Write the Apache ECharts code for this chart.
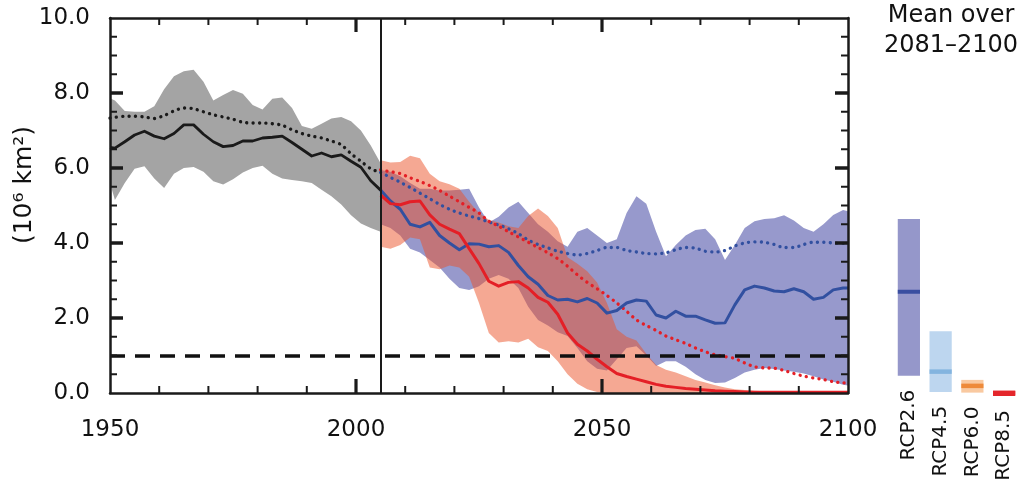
<!DOCTYPE html>
<html><head><meta charset="utf-8">
<script src="https://cdn.jsdelivr.net/npm/echarts@6/dist/echarts.min.js"></script>
<style>html,body{margin:0;padding:0;background:#fff}#c{width:1024px;height:484px}</style>
</head><body><div id="c"></div>
<script>
const FONT = 'DejaVu Sans';

// ---- Historical (1950-2005) ----
const histYears = [1950,1951,1953,1955,1957,1959,1961,1963,1965,1967,1969,1971,1973,1975,1977,1979,1981,1983,1985,1987,1989,1991,1993,1995,1997,1999,2001,2003,2005];
const histMean  = [6.55,6.53,6.7,6.88,6.98,6.85,6.78,6.92,7.15,7.15,6.9,6.7,6.57,6.6,6.72,6.72,6.8,6.82,6.85,6.68,6.5,6.32,6.4,6.3,6.35,6.18,6.02,5.66,5.41];
const histDot   = [7.33,7.35,7.38,7.38,7.36,7.32,7.4,7.52,7.6,7.58,7.5,7.42,7.36,7.3,7.22,7.2,7.2,7.18,7.14,7.02,6.92,6.85,6.8,6.72,6.62,6.38,6.18,5.98,5.88];
const histHi    = [7.86,7.8,7.52,7.5,7.5,7.65,8.1,8.45,8.58,8.62,8.3,7.8,7.95,8.08,7.98,7.68,7.56,7.85,7.88,7.6,7.12,7.05,7.18,7.32,7.36,7.25,7.0,6.6,6.13];
const histLo    = [5.6,5.15,5.6,5.98,6.05,5.72,5.47,5.85,6.0,6.03,5.9,5.65,5.56,5.7,5.88,6.0,6.06,5.85,5.72,5.68,5.65,5.6,5.42,5.25,5.03,4.74,4.52,4.4,4.3];

// ---- Projections (2005-2100) ----
const futYears = [2005,2007,2009,2011,2013,2015,2017,2019,2021,2023,2025,2027,2029,2031,2033,2035,2037,2039,2041,2043,2045,2047,2049,2051,2053,2055,2057,2059,2061,2063,2065,2067,2069,2071,2073,2075,2077,2079,2081,2083,2085,2087,2089,2091,2093,2095,2097,2099,2100];
// RCP2.6
const rcp26Mean = [5.41,5.12,4.9,4.5,4.43, 4.55,4.2,4.0,3.82,3.98, 3.97,3.9,3.93,3.75,3.4, 3.1,2.9,2.6,2.48,2.5, 2.43,2.52,2.4,2.13,2.2, 2.4,2.48,2.45,2.08,2.0, 2.18,2.05,2.05,1.95,1.86, 1.87,2.35,2.75,2.85,2.8, 2.72,2.7,2.78,2.7,2.5, 2.55,2.75,2.8,2.8];
const rcp26Dot  = [5.88,5.75,5.62,5.48,5.33, 5.18,5.03,4.9,4.8,4.72, 4.65,4.56,4.48,4.38,4.25, 4.08,3.96,3.87,3.78,3.72, 3.68,3.72,3.8,3.88,3.88, 3.8,3.76,3.72,3.71,3.74, 3.82,3.88,3.86,3.78,3.76, 3.8,3.92,4.0,4.03,4.02, 3.96,3.88,3.88,3.96,4.02, 4.02,4.0,3.99,3.99];
const rcp26Hi   = [5.95,5.9,5.78,5.6,5.45, 5.45,5.4,5.4,5.42,5.45, 4.95,4.55,4.7,4.95,5.1, 4.8,4.5,4.3,4.05,3.9, 4.3,4.4,4.2,4.0,4.1, 4.8,5.25,5.05,4.3,3.65, 3.95,4.2,4.35,4.38,4.1, 3.55,3.95,4.4,4.58,4.64, 4.66,4.74,4.6,4.4,4.3, 4.5,4.75,4.88,4.85];
const rcp26Lo   = [4.5,4.4,4.2,3.85,3.75, 3.55,3.35,3.05,2.8,2.75, 2.85,3.05,3.15,3.05,2.8, 2.3,1.95,1.8,1.62,1.52, 1.2,0.85,0.65,0.6,0.9, 1.2,1.25,1.0,0.72,0.85, 0.85,0.7,0.5,0.35,0.27, 0.28,0.4,0.55,0.62,0.67, 0.64,0.6,0.57,0.52,0.45, 0.36,0.3,0.22,0.2];
// RCP8.5
const rcp85Mean = [5.28,5.05,5.02,5.1,5.12, 4.75,4.5,4.37,4.25,3.85, 3.45,2.98,2.85,2.95,2.97, 2.8,2.55,2.42,2.1,1.6, 1.3,1.12,0.9,0.7,0.52, 0.44,0.37,0.3,0.23,0.18, 0.15,0.12,0.1,0.08,0.06, 0.05,0.04,0.03,0.02,0.02, 0.02,0.02,0.02,0.02,0.02, 0.02,0.02,0.02,0.02];
const rcp85Dot  = [5.95,5.9,5.85,5.74,5.64, 5.53,5.4,5.25,5.1,4.95, 4.8,4.58,4.45,4.3,4.16, 4.02,3.88,3.74,3.58,3.38, 3.15,2.95,2.78,2.6,2.4, 2.18,1.95,1.8,1.67,1.52, 1.42,1.32,1.2,1.1,1.02, 0.97,0.92,0.8,0.7,0.67, 0.66,0.6,0.52,0.45,0.4, 0.36,0.3,0.27,0.26];
const rcp85Hi   = [6.21,6.15,6.16,6.33,6.26, 5.85,5.65,5.57,5.45,5.1, 4.8,4.62,4.55,4.45,4.4, 4.72,4.92,4.72,4.4,3.62, 3.45,3.25,2.95,2.4,1.7, 1.5,1.4,1.05,0.75,0.62, 0.55,0.45,0.35,0.28,0.21, 0.15,0.1,0.08,0.06,0.05, 0.04,0.03,0.03,0.03,0.03, 0.03,0.03,0.03,0.03];
const rcp85Lo   = [3.9,3.85,3.95,4.15,4.1, 3.35,3.3,3.4,3.35,3.1, 2.4,1.6,1.35,1.38,1.35, 1.45,1.22,1.12,0.85,0.5, 0.25,0.1,0.03,0,0, 0,0,0,0,0, 0,0,0,0,0, 0,0,0,0,0, 0,0,0,0,0, 0,0,0,0];

// ---- Reference lines ----
const thresholdValue = 1.0;
const splitYear = 2005;

// ---- Axis ticks ----
const xTickYears   = [1960,1970,1980,1990,2000,2010,2020,2030,2040,2050,2060,2070,2080,2090];
const xMajorYears  = [2000,2050];
const yTickValues  = [0.5,1,1.5,2,2.5,3,3.5,4,4.5,5,5.5,6,6.5,7,7.5,8,8.5,9,9.5];
const yMajorValues = [2,4,6,8];

// ---- Annotations (model counts) ----
const annoYears  = [1994.1, 2073.2, 2015.0];
const annoValues = [8.48, 5.17, 2.16];
const annoTexts  = ['39 (5)', '29 (3)', '37 (5)'];
const annoColors = ['#111111', '#3a55a3', '#e0262b'];

// ---- Mean over 2081-2100 ----
const rcpNames = ['RCP2.6','RCP4.5','RCP6.0','RCP8.5'];
const rcpLow   = [0.46, 0.03, 0.01, -0.08];
const rcpHigh  = [4.64, 1.65, 0.35, 0.06];
const rcpMean  = [2.70, 0.57, 0.19, 0.0];
const rcpFill  = ['#9597ca', '#bdd6ef', '#f9c9a0', '#e4262b'];
const rcpMeanC = ['#3a4ea0', '#83b4df', '#ee8a3a', '#e4262b'];

const pairs = (xs, ys) => xs.map((x, i) => [x, ys[i]]);
const INK = '#1a1a1a';

function band(xs, hi, lo, color) {
  return {
    type:'custom', silent:true, clip:true,
    data: xs.map((x, i) => [x, lo[i], hi[i]]),
    renderItem: function(params, api){
      if (params.dataIndex !== 0) return null;
      const pts = [];
      for (let i = 0; i < xs.length; i++) pts.push(api.coord([xs[i], hi[i]]));
      for (let i = xs.length - 1; i >= 0; i--) pts.push(api.coord([xs[i], lo[i]]));
      return {type:'polygon', shape:{points:pts}, style:{fill:color}};
    }
  };
}
function solid(data, color, w) {
  return {type:'line', data:data, symbol:'none', silent:true, lineStyle:{color:color, width:w, join:'round'}};
}
function dotted(data, color) {
  return {type:'line', data:data, symbol:'none', silent:true, smooth:0.3,
          lineStyle:{color:color, width:3.3, type:[0.1, 6.3], cap:'round'}};
}

const xAxisDef = (pos, showLabel) => ({
  gridIndex:0, type:'value', min:1950, max:2100, interval:50, position:pos, z:20,
  axisLine:{show:true, onZero:false, lineStyle:{color:INK, width:2.5}},
  axisTick:{show:false}, splitLine:{show:false},
  axisLabel:{show:showLabel, fontSize:23, fontFamily:FONT, color:'#111', margin:26,
             formatter:v => String(v)}
});
const yAxisDef = (pos, showLabel) => ({
  gridIndex:0, type:'value', min:0, max:10, interval:2, position:pos, z:20,
  axisLine:{show:true, onZero:false, lineStyle:{color:INK, width:2.5}},
  axisTick:{show:false}, splitLine:{show:false},
  axisLabel:{show:showLabel, fontSize:23, fontFamily:FONT, color:'#111', margin:20,
             formatter:v => v.toFixed(1)}
});

const series = [
  band(histYears, histHi, histLo, '#a4a4a4'),
  band(futYears, rcp26Hi, rcp26Lo, '#9799cc'),
  band(futYears, rcp85Hi, rcp85Lo, 'rgba(236,82,40,0.5)'),
  dotted(pairs(histYears, histDot), INK),
  dotted(pairs(futYears, rcp26Dot), '#3250a0'),
  dotted(pairs(futYears, rcp85Dot), '#e41f26'),
  solid(pairs(histYears, histMean), INK, 2.8),
  solid(pairs(futYears, rcp26Mean), '#3250a0', 3),
  solid(pairs(futYears, rcp85Mean), '#e41f26', 3),
  {type:'line', data:[], symbol:'none', silent:true, z:5,
   markLine:{symbol:'none', silent:true, animation:false, label:{show:false},
     data:[
       {yAxis:thresholdValue, lineStyle:{color:'#111', width:3.5, type:[15,10]}},
       {xAxis:splitYear, lineStyle:{color:INK, width:2, type:'solid'}}
     ]}},
  {type:'scatter', silent:true, symbolSize:1, itemStyle:{opacity:0},
   data:annoYears.map((y, i) => ({value:[y, annoValues[i]],
     label:{show:true, position:'inside', formatter:annoTexts[i], color:annoColors[i],
            fontSize:20, fontFamily:FONT}}))},
  {type:'custom', xAxisIndex:2, yAxisIndex:2, silent:true,
   data:rcpNames.map((n, i) => [i, rcpLow[i], rcpHigh[i], rcpMean[i]]),
   renderItem:function(params, api){
     const i = api.value(0);
     const top = api.coord([i, api.value(2)]);
     const bot = api.coord([i, api.value(1)]);
     const mid = api.coord([i, api.value(3)]);
     const w = api.size([1, 0])[0] * 0.7;
     const mh = i === 0 ? 4 : 4.5;
     return {type:'group', children:[
       {type:'rect', shape:{x:top[0]-w/2, y:top[1], width:w, height:bot[1]-top[1]}, style:{fill:rcpFill[i]}},
       {type:'rect', shape:{x:top[0]-w/2, y:mid[1]-mh/2, width:w, height:mh}, style:{fill:rcpMeanC[i]}},
       {type:'text', x:top[0], y:bot[1]+14, rotation:Math.PI/2,
        style:{text:rcpNames[i], fontSize:20, fontFamily:FONT, fill:'#111', align:'right', verticalAlign:'middle'}}
     ]};
   }}
];

const textGraphics = [
  {type:'text', x:24, y:185, rotation:Math.PI/2,
   style:{text:'(10\u2076 km\u00B2)', fontSize:25, fontFamily:FONT, fill:'#111', align:'center', verticalAlign:'middle'}},
  {type:'text', x:951, y:16,
   style:{text:'Mean over', fontSize:24, fontFamily:FONT, fill:'#111', align:'center', verticalAlign:'middle'}},
  {type:'text', x:951, y:46,
   style:{text:'2081\u20132100', fontSize:24, fontFamily:FONT, fill:'#111', align:'center', verticalAlign:'middle'}}
];

const chart = echarts.init(document.getElementById('c'), null, {renderer:'canvas'});
chart.setOption({
  animation:false,
  backgroundColor:'#fff',
  grid:[{left:110, right:176, top:18, bottom:91}, {left:893, right:4, top:18, bottom:91}],
  xAxis:[xAxisDef('bottom', true), xAxisDef('top', false),
         {gridIndex:1, type:'category', data:rcpNames, show:false}],
  yAxis:[yAxisDef('left', true), yAxisDef('right', false),
         {gridIndex:1, type:'value', min:0, max:10, show:false}],
  graphic:{elements:textGraphics},
  series:series
});

// Inward ticks on all four sides, placed through the chart's own scales
const px = (x, y) => chart.convertToPixel({gridIndex:0}, [x, y]);
const corner0 = px(1950, 0), corner1 = px(2100, 10);
const gLeft = corner0[0], gBottom = corner0[1], gRight = corner1[0], gTop = corner1[1];
const tickEls = [];
const tick = (x1, y1, x2, y2, w) => tickEls.push({type:'line', z:100, silent:true,
  shape:{x1:x1, y1:y1, x2:x2, y2:y2}, style:{stroke:INK, lineWidth:w}});
xTickYears.forEach(v => {
  const major = xMajorYears.indexOf(v) >= 0;
  const L = major ? 14 : 7, W = major ? 3.2 : 2;
  const x = px(v, 0)[0];
  tick(x, gBottom, x, gBottom - L, W);
  tick(x, gTop, x, gTop + L, W);
});
yTickValues.forEach(v => {
  const major = yMajorValues.indexOf(v) >= 0;
  const L = major ? 13 : 7, W = major ? 3.5 : 2;
  const y = px(1950, v)[1];
  tick(gLeft, y, gLeft + L, y, W);
  tick(gRight, y, gRight - L, y, W);
});
chart.setOption({graphic:{elements:textGraphics.concat(tickEls)}});
</script></body></html>
